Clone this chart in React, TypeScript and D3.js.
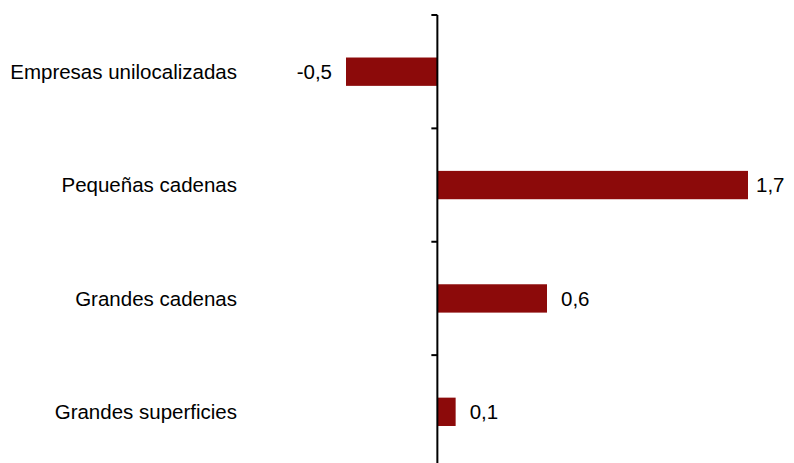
import React from 'react';
import * as d3 from 'd3';

// categories top to bottom and their values
const categories = ['Empresas unilocalizadas', 'Pequeñas cadenas', 'Grandes cadenas', 'Grandes superficies'];
const values = [-0.5, 1.7, 0.6, 0.1];
const valueLabels = ['-0,5', '1,7', '0,6', '0,1'];

const W = 794;
const H = 463;
const barColor = '#8c0a0a';
const font = 'Arial, "Liberation Sans", sans-serif';
const fontSize = 20.5;

export default function App() {
  const x = d3.scaleLinear().domain([-0.5, 1.7]).range([346, 748]);
  const y = d3.scaleBand<string>()
    .domain(categories)
    .range([15, 468.5])
    .paddingInner(0.75)
    .paddingOuter(0.375);

  const x0 = x(0);
  const step = y.step();
  const tickYs = d3.range(categories.length + 1).map(i => 15 + i * step);

  return (
    <svg width={W} height={H} style={{ position: 'absolute', left: 0, top: 0, background: '#fff' }}
      fontFamily={font}>
      {categories.map((c, i) => {
        const v = values[i];
        const by = y(c)!;
        const bw = y.bandwidth();
        const left = Math.min(x(v), x0);
        const width = Math.abs(x(v) - x0);
        const cy = by + bw / 2;
        // labels kept inside the right edge, like the original
        const lx = v < 0 ? x(v) - 14 : Math.min(x(v) + 14, 756);
        return (
          <g key={c}>
            <rect x={left} y={by} width={width} height={bw} fill={barColor} />
            <text x={237} y={cy} dy="0.35em" textAnchor="end" fontSize={fontSize} fill="#000">{c}</text>
            <text
              x={lx}
              y={cy}
              dy="0.35em"
              textAnchor={v < 0 ? 'end' : 'start'}
              fontSize={fontSize}
              fill="#000"
            >{valueLabels[i]}</text>
          </g>
        );
      })}
      <line x1={x0} x2={x0} y1={tickYs[0]} y2={tickYs[tickYs.length - 1]} stroke="#000" strokeWidth={2} />
      {tickYs.map((t, i) => (
        <line key={i} x1={x0 - 6} x2={x0} y1={t} y2={t} stroke="#000" strokeWidth={2} />
      ))}
    </svg>
  );
}
